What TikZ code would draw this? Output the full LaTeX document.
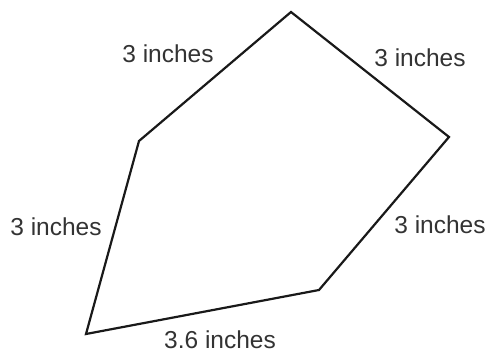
\documentclass[tikz,border=0pt]{standalone}
\usepackage{fontspec}
\setmainfont{Liberation Sans}
\begin{document}
\begin{tikzpicture}[x=1pt,y=-1pt,
  edge/.style={line width=2.2pt,line join=miter,draw=black!90},
  lbl/.style={text=black!80,font=\fontsize{24.5}{28}\selectfont,inner sep=0pt}]
\useasboundingbox (0,0) rectangle (493,358);
\coordinate (T) at (291,12);
\coordinate (R) at (449,137);
\coordinate (LR) at (319,290);
\coordinate (BL) at (86,334);
\coordinate (L) at (139,141);
\draw[edge] (T) -- (R) -- (LR) -- (BL) -- (L) -- cycle;
\node[lbl] (a) at (168,54) {3 inches};
\node[lbl] (b) at (420,58) {3 inches};
\node[lbl] (c) at (56,227) {3 inches};
\node[lbl] (d) at (440,225) {3 inches};
\node[lbl] (e) at (220,340) {3.6 inches};
\end{tikzpicture}
\end{document}
